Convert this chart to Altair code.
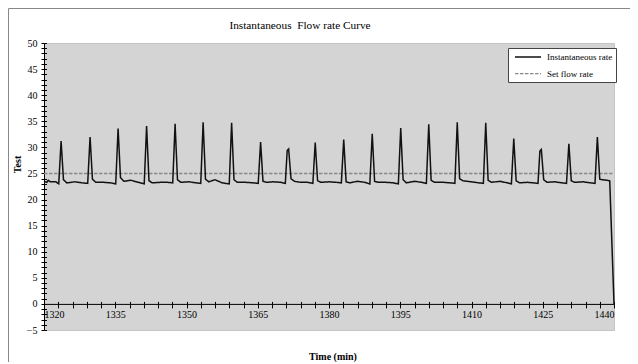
import altair as alt
import pandas as pd

# ---- data ----
minutes = [
    1320.0, 1320.6, 1320.9, 1321.3, 1322.5, 1323.1,
    1323.6, 1324.1, 1324.8, 1326.5, 1328.0, 1329.2,
    1329.7, 1330.2, 1330.9, 1332.5, 1334.0, 1335.1,
    1335.6, 1336.1, 1336.8, 1338.3, 1339.8, 1341.1,
    1341.6, 1342.1, 1342.8, 1344.5, 1346.0, 1347.1,
    1347.6, 1348.1, 1348.8, 1350.5, 1352.0, 1353.0,
    1353.5, 1354.0, 1354.7, 1356.0, 1357.5, 1359.0,
    1359.5, 1360.0, 1360.7, 1362.5, 1364.0, 1365.1,
    1365.6, 1366.1, 1366.8, 1368.3, 1369.8, 1370.8,
    1371.2, 1371.5, 1372.0, 1372.7, 1374.0, 1375.5, 1376.6,
    1377.1, 1377.6, 1378.3, 1380.0, 1381.5, 1382.6,
    1383.1, 1383.6, 1384.3, 1386.0, 1387.5, 1388.6,
    1389.1, 1389.6, 1390.3, 1392.0, 1393.5, 1394.6,
    1395.1, 1395.6, 1396.3, 1398.0, 1399.5, 1400.5,
    1401.0, 1401.5, 1402.2, 1404.0, 1405.5, 1406.5,
    1407.0, 1407.5, 1408.2, 1410.0, 1411.5, 1412.5,
    1413.0, 1413.5, 1414.2, 1416.0, 1417.5, 1418.4,
    1418.9, 1419.4, 1420.1, 1421.8, 1423.0, 1424.0,
    1424.4, 1424.7, 1425.2, 1425.9, 1427.5, 1429.0, 1430.0,
    1430.5, 1431.0, 1431.7, 1433.5, 1435.0, 1436.0,
    1436.5, 1437.0, 1437.6, 1438.5, 1439.1, 1440.0,
]
rate = [
    23.5, 23.3, 23.7, 23.4, 23.4, 23.0,
    31.2, 23.8, 23.2, 23.4, 23.2, 23.1,
    32.0, 23.9, 23.3, 23.3, 23.2, 23.0,
    33.6, 24.2, 23.5, 23.7, 23.3, 23.0,
    34.1, 23.6, 23.2, 23.3, 23.3, 23.2,
    34.5, 23.8, 23.3, 23.4, 23.2, 23.1,
    34.8, 23.9, 23.4, 23.8, 23.2, 23.0,
    34.7, 23.8, 23.3, 23.3, 23.2, 23.1,
    31.0, 23.5, 23.3, 23.4, 23.3, 23.1,
    29.4, 29.7, 24.0, 23.5, 23.3, 23.3, 23.1,
    30.9, 23.6, 23.3, 23.4, 23.3, 23.2,
    31.5, 23.4, 23.2, 23.5, 23.3, 23.0,
    32.6, 23.5, 23.3, 23.3, 23.2, 23.0,
    33.7, 23.8, 23.2, 23.5, 23.3, 23.1,
    34.4, 23.7, 23.3, 23.3, 23.2, 23.1,
    34.8, 24.0, 23.6, 23.4, 23.2, 23.1,
    34.7, 23.7, 23.3, 23.5, 23.2, 23.0,
    31.7, 23.6, 23.2, 23.3, 23.2, 23.1,
    29.3, 29.6, 23.8, 23.3, 23.4, 23.2, 23.1,
    30.7, 23.6, 23.3, 23.4, 23.2, 23.1,
    32.0, 23.9, 23.8, 23.7, 23.6, 0.0,
]
set_minutes = [1320, 1440]
set_rate = [25, 25]
series_names = ["Instantaneous rate", "Set flow rate"]
x_tick_values = list(range(1320, 1441, 3))
y_tick_values = list(range(-5, 51, 1))

df_inst = pd.DataFrame({"minute": minutes, "rate": rate, "series": series_names[0]})
df_set = pd.DataFrame({"minute": set_minutes, "rate": set_rate, "series": series_names[1]})

FONT = "Liberation Serif"
W, H = 570, 287

xs = alt.Scale(domain=[1320, 1440], nice=False, zero=False)
ys = alt.Scale(domain=[-5, 50], nice=False, zero=False)

legend = alt.Legend(
    title=None, orient="none", legendX=464, legendY=5,
    fillColor="white", strokeColor="#444444", padding=3, cornerRadius=0,
    symbolType="M-2.6,0H2.6", symbolSize=100, symbolStrokeWidth=1.3,
    symbolOffset=11,
    labelFont=FONT, labelFontSize=9, labelColor="black", labelOffset=13,
    rowPadding=5.7,
)
color = alt.Color("series:N", scale=alt.Scale(domain=series_names, range=["#111111", "#888888"]), legend=legend)
dash = alt.StrokeDash("series:N", scale=alt.Scale(domain=series_names, range=[[1, 0], [3.5, 1.5]]), legend=legend)

axis_common = dict(labelFont=FONT, labelColor="black", labelFontSize=10, domainColor="black",
                   tickColor="black", grid=False, titleFont=FONT, titleFontSize=10,
                   titleFontWeight="bold", titleColor="black", labelOverlap=False)

x_main = alt.Axis(orient="bottom", offset=-26.1, values=x_tick_values, format="d",
                  labelExpr="datum.value % 15 === 0 ? datum.label : ''",
                  tickSize=4, labelPadding=2, title="Time (min)",
                  titleX=288.5, titleY=53, titleAlign="center", titleBaseline="middle",
                  **axis_common)
y_main = alt.Axis(orient="left", values=y_tick_values,
                  labelExpr="datum.value % 5 === 0 ? datum.label : ''",
                  tickSize=3, labelPadding=4, title="Test",
                  titleX=-27, titleY=121, titleAlign="center", titleBaseline="middle",
                  **axis_common)
x_in = alt.Axis(orient="top", offset=-260.9, values=x_tick_values, labels=False, domain=False,
                tickSize=2.5, tickColor="black", grid=False, title=None)
y_in = alt.Axis(orient="right", offset=-W, values=y_tick_values, labels=False, domain=False,
                tickSize=2.5, tickColor="black", grid=False, title=None)

set_line = alt.Chart(df_set).mark_line(strokeWidth=1.5).encode(
    x=alt.X("minute:Q", scale=xs, axis=x_in),
    y=alt.Y("rate:Q", scale=ys, axis=y_in),
    color=color, strokeDash=dash,
)
inst_line = alt.Chart(df_inst).mark_line(strokeWidth=1.5).encode(
    x=alt.X("minute:Q", scale=xs, axis=x_main),
    y=alt.Y("rate:Q", scale=ys, axis=y_main),
    color=color, strokeDash=dash,
)
frame = alt.Chart(pd.DataFrame({"k": [0]})).mark_rect(
    fillOpacity=0, stroke="#888888", strokeWidth=1
).encode(x=alt.value(-35.5), x2=alt.value(700), y=alt.value(-34.5), y2=alt.value(400))

chart = alt.layer(set_line, inst_line, frame).resolve_axis(
    x="independent", y="independent"
).properties(
    width=W, height=H,
    title=alt.TitleParams("Instantaneous\u00a0\u00a0Flow rate Curve", font=FONT, fontSize=11.3,
                          fontWeight="normal", color="black", anchor="middle", frame="group",
                          baseline="middle", dx=-29, offset=-29),
    autosize=alt.AutoSizeParams(type="none"),
    padding={"left": 36, "top": 35, "right": 16, "bottom": 32},
    background="white",
).configure_view(fill="#D4D4D4", stroke="#c4c4c4", strokeWidth=1)

chart.save("out.html", embed_options={"renderer": "svg", "actions": False})
